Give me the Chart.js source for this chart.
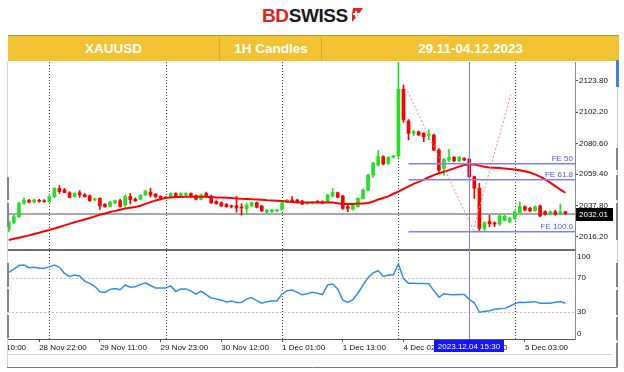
<!DOCTYPE html>
<html>
<head>
<meta charset="utf-8">
<title>XAUUSD 1H Candles</title>
<script src="https://cdn.jsdelivr.net/npm/chart.js@4.4.1/dist/chart.umd.min.js"></script>
<style>
  html, body { margin: 0; padding: 0; background: #fff; }
  body { position: relative; width: 624px; height: 372px; overflow: hidden; font-family: "Liberation Sans", Arial, sans-serif; }
  #logo { position: absolute; left: 262px; top: 5px; font-size: 19px; font-weight: bold; letter-spacing: -0.4px; white-space: nowrap; }
  #logo .bd { color: #e2231a; }
  #logo .sw { color: #1b1b1b; }
  #logo svg { vertical-align: top; margin-top: 3px; margin-left: 1px; }
  #band { position: absolute; left: 8px; top: 35px; width: 611px; height: 26px; background: #f1c232; border-top: 1px solid #b9962c; box-sizing: border-box; }
  #band div { position: absolute; top: 0; height: 25px; line-height: 25px; color: #fff; font-size: 13.5px; font-weight: bold; text-align: center; }
  #wrap { position: absolute; left: 0; top: 62px; width: 624px; height: 310px; }
  .edge { position: absolute; width: 2px; background: #858585; }
</style>
</head>
<body>
<div id="logo"><span class="bd">BD</span><span class="sw">SWISS</span><svg width="14" height="14" viewBox="0 0 14 14"><polygon points="4,0 14,0 9,7 3,14 3,6" fill="#e2231a"/><path d="M6 3h2v2h2v2H8v2H6V7H4V5h2z" fill="#fff"/></svg></div>
<div id="band">
  <div style="left:0;width:211px">XAUUSD</div>
  <div style="left:211px;width:102px;border-left:1px solid #d9aa22">1H Candles</div>
  <div style="left:313px;width:297px;border-left:1px solid #d9aa22">29.11-04.12.2023</div>
</div>
<div id="wrap"><canvas id="xauChart" width="624" height="310"></canvas></div>
<div style="position:absolute;left:0;top:339px;width:7px;height:33px;background:#fff"></div>
<div style="position:absolute;left:617px;top:62px;width:1px;height:306px;background:#cfcfcf"></div>
<div style="position:absolute;left:616px;top:60px;width:3px;height:27px;background:#4a7fd8"></div>
<div class="edge" style="left:616px;top:148px;height:22px"></div>
<div class="edge" style="left:616px;top:175px;height:25px"></div>
<div class="edge" style="left:616px;top:203px;height:37px"></div>
<div class="edge" style="left:616px;top:263px;height:24px"></div>
<div class="edge" style="left:616px;top:290px;height:25px"></div>
<div class="edge" style="left:616px;top:317px;height:23px"></div>
<div class="edge" style="left:616px;top:343px;height:24px"></div>
<div class="edge" style="left:7px;top:177px;height:23px"></div>
<div class="edge" style="left:7px;top:203px;height:24px"></div>
<div class="edge" style="left:7px;top:263px;height:24px"></div>
<div class="edge" style="left:7px;top:289px;height:23px"></div>
<div class="edge" style="left:7px;top:315px;height:23px"></div>
<script>
// hourly bars from 28 Nov 16:00 to 5 Dec 11:00 (server time, no 00:00 bar)
const opens = [
  2021, 2026, 2030, 2039.2, 2041.3, 2040, 2041.2, 2041, 2040.3, 2043.8,
  2049.5, 2048.5, 2046.5, 2043.8, 2046.5, 2045.2, 2044.4, 2041.5, 2042.6, 2038.5,
  2037, 2039.5, 2041, 2038, 2044, 2042, 2042, 2045, 2047, 2045.5,
  2044, 2043, 2043.5, 2046, 2044, 2045, 2046, 2044.5, 2042, 2046,
  2044.2, 2040.5, 2039.6, 2038.5, 2037.5, 2037.5, 2036.5, 2035.5, 2037.5, 2039.6,
  2037.3, 2033, 2033.5, 2034, 2035, 2040, 2041.5, 2041.5, 2040.8, 2039,
  2039.5, 2040.5, 2040.3, 2040.3, 2044.2, 2046.6, 2044.2, 2036.9, 2035.1, 2036.9,
  2042.6, 2048.4, 2058.7, 2065.7, 2071.4, 2066.8, 2070.9, 2071.9, 2117.9, 2096,
  2087.5, 2088.6, 2087.5, 2086, 2086.3, 2076, 2063.3, 2069.1, 2071, 2068.6,
  2070.2, 2069.6, 2057.6, 2049.6, 2021.9, 2026.6, 2025.8, 2025, 2027.5, 2026.5,
  2028.8, 2032.8, 2036.9, 2035.7, 2034.1, 2037.4, 2033.4, 2031.8, 2033.4, 2031.8, 2033.4
];
const highs = [
  2027, 2031, 2040, 2043, 2042, 2042.2, 2042, 2041.8, 2044.5, 2050,
  2051.5, 2049.5, 2047.2, 2046.5, 2048, 2046, 2045, 2042.8, 2043, 2039,
  2040.5, 2041.5, 2042, 2045, 2046, 2043, 2045, 2048, 2049.5, 2046,
  2044.5, 2044, 2046.5, 2046.5, 2046.5, 2046.5, 2046.5, 2045, 2045.5, 2047,
  2044.8, 2041, 2040.2, 2039, 2038, 2044, 2039, 2039.5, 2040.2, 2040,
  2037.8, 2034.8, 2035, 2035, 2040, 2041.8, 2043.8, 2042, 2041.2, 2040.2,
  2040.2, 2041.2, 2041, 2045.5, 2049.5, 2047, 2044.8, 2039.2, 2038.5, 2043,
  2049, 2059.2, 2067.5, 2075.5, 2072, 2071.4, 2072.3, 2137, 2120.8, 2097,
  2089.5, 2089, 2088, 2090, 2087, 2077, 2070, 2076.5, 2071.5, 2071.5,
  2070.6, 2070.5, 2058, 2053, 2026.5, 2031, 2026.5, 2031.3, 2031, 2029.5,
  2034, 2040.3, 2037.5, 2036.5, 2037.5, 2038, 2034, 2034, 2034.5, 2038.7, 2033.8
];
const lows = [
  2019.5, 2025, 2029.5, 2038.5, 2039.5, 2039.5, 2040, 2040, 2040, 2043,
  2046, 2046.5, 2043, 2043.5, 2043.3, 2043.5, 2040.5, 2041, 2035, 2036.5,
  2036.8, 2039, 2036.5, 2036.5, 2038.8, 2040.5, 2041.5, 2044.5, 2043.5, 2043,
  2042.5, 2042.5, 2043, 2043.5, 2043.5, 2044.5, 2043.5, 2041.5, 2041.5, 2043.5,
  2039, 2038.5, 2037, 2036.5, 2036, 2033, 2031, 2031.8, 2037, 2036,
  2033.5, 2032.5, 2033, 2033.2, 2034.5, 2039.5, 2039.8, 2040, 2038.3, 2038.5,
  2038.8, 2039.5, 2038.8, 2040, 2043.8, 2043, 2035, 2033.4, 2034.5, 2036.5,
  2042, 2048, 2057, 2065, 2065.7, 2066, 2070.5, 2071, 2095, 2083,
  2086, 2086, 2081.7, 2083, 2075.5, 2061, 2058.7, 2067.9, 2068, 2068,
  2068.6, 2057, 2042.6, 2019.8, 2019.8, 2023, 2023.2, 2023.8, 2027, 2026,
  2028, 2032.5, 2034, 2033.5, 2033.8, 2030, 2031, 2031.5, 2031, 2031.5, 2031.5
];
const closes = [
  2026, 2030, 2039.2, 2041.3, 2040, 2041.6, 2040.6, 2040.3, 2043.8, 2049.5,
  2047.3, 2046.6, 2043.3, 2046, 2045, 2043.8, 2041, 2042.3, 2037.5, 2036.8,
  2040, 2041.2, 2037, 2044, 2041.8, 2041, 2044.8, 2047.8, 2044.8, 2043.8,
  2043, 2043.5, 2046, 2044, 2046, 2046, 2044, 2042, 2045, 2044,
  2039.6, 2039, 2037.5, 2036.9, 2036.8, 2036, 2036, 2037.9, 2039.6, 2036.5,
  2034, 2034.6, 2034.6, 2034.5, 2039.5, 2041.5, 2040.8, 2040.3, 2038.7, 2039.8,
  2039.8, 2039.8, 2039.4, 2044.9, 2046.6, 2043.3, 2035.7, 2035.7, 2038, 2042.6,
  2048.4, 2058.7, 2066.8, 2071.4, 2066.3, 2070.9, 2071.9, 2117.9, 2096.7, 2087.5,
  2088.6, 2086.3, 2085.2, 2086.5, 2076, 2062.2, 2069.6, 2071, 2068.6, 2071,
  2069.1, 2057.6, 2049.6, 2021.9, 2025.9, 2025, 2024.8, 2030.5, 2030.3, 2028.8,
  2033.4, 2036.9, 2034.6, 2034.1, 2036.9, 2030.5, 2031.8, 2033.4, 2031.8, 2033.4, 2032
];
const maValues = [
  2013.9, 2014.7, 2015.5, 2016.3, 2017.1, 2018, 2018.9, 2019.9, 2020.8, 2021.8,
  2022.9, 2024, 2025, 2026.1, 2027.1, 2028.1, 2029.1, 2030.2, 2031.3, 2032.2,
  2033.2, 2034, 2034.8, 2035.6, 2036.2, 2036.7, 2037.5, 2038.8, 2040, 2041.2,
  2042, 2043, 2043.3, 2043.5, 2043.6, 2043.7, 2043.8, 2043.8, 2043.8, 2043.7,
  2043.5, 2043.3, 2043.2, 2043, 2042.8, 2042.5, 2042.3, 2042.2, 2042, 2041.9,
  2041.7, 2041.4, 2041.2, 2041, 2040.8, 2040.4, 2040.1, 2039.8, 2039.7, 2039.7,
  2039.7, 2039.7, 2039.7, 2039.7, 2039.7, 2039.3, 2038.8, 2038.7, 2038.8, 2039,
  2039.1, 2039.4, 2040.5, 2041.8, 2042.9, 2044, 2045.8, 2047.3, 2049.2, 2050.9,
  2052.6, 2054, 2055.6, 2057.2, 2058.7, 2059.9, 2061, 2062.1, 2063.3, 2064.5,
  2065.6, 2066.1, 2066, 2065.2, 2064.4, 2064, 2063.8, 2063.5, 2063.2, 2062.9,
  2062.6, 2062, 2061.3, 2060.5, 2059.2, 2057.6, 2055.7, 2053.5, 2051.1, 2048.7, 2046.5
];
const rsiValues = [
  76, 80, 84, 84.7, 81.6, 82, 80.8, 80.8, 82.5, 84.7,
  82, 75, 71.5, 73, 72, 66, 63.5, 60, 53.8, 53,
  56.5, 57.5, 56, 61.6, 59, 59.5, 62, 64, 61, 58,
  58, 58, 60.5, 54, 57, 57, 54.5, 51, 54.5, 50.5,
  46.5, 45.5, 44, 41.8, 43, 41.3, 41.2, 45.5, 47, 43.5,
  40.5, 42.3, 43, 43, 51, 55, 55.8, 53, 50.2, 51.5,
  53, 52, 50.4, 61.5, 62.7, 57, 44, 41.5, 44.5, 52,
  61.5, 70, 75.5, 78, 71.5, 73, 73.2, 85.8, 69, 63.6,
  63.6, 63.4, 63.2, 62.9, 55, 47.3, 51.5, 50.6, 50.3, 50.5,
  50.5, 45, 41, 30, 31, 31.7, 33.5, 34, 34.5, 37,
  40, 41.5, 41.3, 41.8, 42.3, 40.5, 40.5, 40.5, 41.5, 42.3, 40.5
];

const timeLabels = ['28 Nov 10:00', '28 Nov 22:00', '29 Nov 11:00', '29 Nov 23:00', '30 Nov 12:00',
  '1 Dec 01:00', '1 Dec 13:00', '4 Dec 02:00', '4 Dec 14:00', '5 Dec 03:00'];
const timeLabelBars = [-6, 6, 18, 30, 42, 54, 66, 78, 90, 102];
const daySepBars = [8, 31, 54, 77, 100];

const priceTicks = [2123.80, 2102.20, 2080.60, 2059.40, 2037.80, 2016.20];
const rsiTickLabels = ['100', '70', '30', '0'];
const rsiTickPos = [94.5, 70, 30, 5];   // MT4 keeps the end labels inside the pane
const rsiLevels = [70, 30];
const lastPrice = 2032.01;

const feNames = ['FE 50', 'FE 61.8', 'FE 100.0'];
const feValues = [2066.5, 2055.5, 2019.6];
const feStartBar = 79;
const fiboBars = [78.8, 91.8, 99.2];
const fiboPrices = [2116.5, 2021, 2114];

const cursorBar = 91;
const cursorLabel = '2023.12.04 15:30';

const xMin = -0.16, xMax = 111.9;
const upColor = '#22e022';
const downColor = '#ff0000';
const axisFont = { family: 'Liberation Sans', size: 8 };

const bars = opens.map((_, i) => i);
const candleColors = bars.map(i => closes[i] >= opens[i] ? upColor : downColor);

function hline(ctx, x1, x2, y) {
  ctx.beginPath(); ctx.moveTo(x1, y); ctx.lineTo(x2, y); ctx.stroke();
}
function vline(ctx, x, y1, y2) {
  ctx.beginPath(); ctx.moveTo(x, y1); ctx.lineTo(x, y2); ctx.stroke();
}

const terminalLook = {
  id: 'terminalLook',
  beforeDatasetsDraw(chart) {
    const { ctx, chartArea: a, scales: { x, y, y2 } } = chart;
    ctx.save();
    ctx.lineWidth = 1;
    ctx.strokeStyle = '#c4c4c4';
    ctx.setLineDash([2, 2]);
    rsiLevels.forEach(v => hline(ctx, a.left, a.right, Math.round(y2.getPixelForValue(v)) + 0.5));
    ctx.strokeStyle = '#444';
    ctx.setLineDash([1, 2]);
    daySepBars.forEach(b => vline(ctx, Math.round(x.getPixelForValue(b)) + 0.5, a.top, a.bottom));
    ctx.setLineDash([]);
    ctx.strokeStyle = '#a8a8a8';
    ctx.lineWidth = 2;
    hline(ctx, a.left, a.right, Math.round(y.getPixelForValue(lastPrice)));
    ctx.restore();
  },
  afterDatasetsDraw(chart) {
    const { ctx, chartArea: a, scales: { x, y } } = chart;
    ctx.save();
    // pane separator
    ctx.strokeStyle = '#6a6a6a';
    ctx.lineWidth = 2;
    hline(ctx, a.left, a.right, y.bottom);
    // crosshair
    ctx.strokeStyle = '#7c7cff';
    ctx.lineWidth = 1;
    vline(ctx, Math.round(x.getPixelForValue(cursorBar)) + 0.5, a.top, a.bottom);
    // fibo expansion labels
    ctx.fillStyle = '#5050ff';
    ctx.font = '8px "Liberation Sans"';
    ctx.textAlign = 'right';
    ctx.textBaseline = 'alphabetic';
    feNames.forEach((n, k) => ctx.fillText(n, a.right - 2, y.getPixelForValue(feValues[k]) - 3));
    ctx.restore();
  },
  afterDraw(chart) {
    const { ctx, chartArea: a, scales: { x, y } } = chart;
    ctx.save();
    // last price tag
    const py = Math.round(y.getPixelForValue(lastPrice));
    ctx.fillStyle = '#000';
    ctx.fillRect(a.right + 1, py - 6, 37, 13);
    ctx.fillStyle = '#fff';
    ctx.font = '8px "Liberation Sans"';
    ctx.textAlign = 'left';
    ctx.textBaseline = 'middle';
    ctx.fillText(lastPrice.toFixed(2), a.right + 4, py + 0.5);
    // cursor time tag
    const cx = Math.round(x.getPixelForValue(cursorBar));
    ctx.fillStyle = '#1414ff';
    ctx.fillRect(cx - 35, a.bottom + 1, 70, 12);
    ctx.fillStyle = '#fff';
    ctx.textAlign = 'center';
    ctx.fillText(cursorLabel, cx, a.bottom + 7.5);
    // window frame
    ctx.lineWidth = 1;
    ctx.strokeStyle = '#d4d4d4';
    vline(ctx, 7.5, 0, 306);
    hline(ctx, 8, 612, 292.5);
    ctx.strokeStyle = '#7a7a7a';
    hline(ctx, 7, 618, 305.5);
    ctx.restore();
  }
};

new Chart(document.getElementById('xauChart'), {
  type: 'bar',
  data: {
    datasets: [
      {
        label: 'wicks',
        data: bars.map(i => ({ x: i, y: [lows[i], highs[i]] })),
        backgroundColor: candleColors,
        barThickness: 1,
        grouped: false,
        yAxisID: 'y',
        order: 6
      },
      {
        label: 'bodies',
        data: bars.map(i => ({ x: i, y: [opens[i], closes[i]] })),
        backgroundColor: candleColors,
        barThickness: 3,
        minBarLength: 1,
        grouped: false,
        yAxisID: 'y',
        order: 5
      },
      {
        type: 'line',
        label: 'MA',
        data: bars.map(i => ({ x: i, y: maValues[i] })),
        borderColor: '#ff0000',
        borderWidth: 2,
        pointRadius: 0,
        tension: 0,
        yAxisID: 'y',
        order: 4
      },
      ...feValues.map((v, k) => ({
        type: 'line',
        label: feNames[k],
        data: [{ x: feStartBar, y: v }, { x: xMax, y: v }],
        borderColor: '#8080ff',
        borderWidth: 1.5,
        pointRadius: 0,
        yAxisID: 'y',
        order: 3
      })),
      {
        type: 'line',
        label: 'Fibo expansion',
        data: fiboBars.map((b, k) => ({ x: b, y: fiboPrices[k] })),
        borderColor: '#ff8080',
        borderWidth: 1,
        borderDash: [2, 2],
        pointRadius: 0,
        yAxisID: 'y',
        order: 2
      },
      {
        type: 'line',
        label: 'RSI',
        data: bars.map(i => ({ x: i, y: rsiValues[i] })),
        borderColor: '#2b8ff0',
        borderWidth: 1.5,
        pointRadius: 0,
        tension: 0,
        yAxisID: 'y2',
        order: 1
      }
    ]
  },
  options: {
    responsive: false,
    animation: false,
    events: [],
    layout: { padding: { left: 8, right: 0, top: 0, bottom: 0 } },
    plugins: { legend: { display: false }, tooltip: { enabled: false } },
    scales: {
      x: {
        type: 'linear',
        min: xMin,
        max: xMax,
        offset: false,
        afterBuildTicks: s => { s.ticks = timeLabelBars.map(v => ({ value: v })); },
        afterFit: s => { s.height = 33; s.paddingLeft = 0; s.paddingRight = 0; },
        grid: { offset: false, drawOnChartArea: false, drawTicks: true, tickLength: 3, color: '#555' },
        border: { color: '#555' },
        ticks: {
          autoSkip: false, maxRotation: 0, minRotation: 0, align: 'start', padding: 1,
          color: '#111', font: axisFont,
          callback: (v, i) => timeLabels[i]
        }
      },
      y: {
        position: 'right',
        stack: 'panes',
        stackWeight: 188,
        min: 2007.0,
        max: 2136.7,
        afterBuildTicks: s => { s.ticks = priceTicks.map(v => ({ value: v })); },
        afterFit: s => { s.width = 49; s.paddingTop = 0; s.paddingBottom = 0; },
        grid: { drawOnChartArea: false, drawTicks: true, tickLength: 3, color: '#555' },
        border: { color: '#8a8a8a' },
        ticks: { padding: 1, color: '#111', font: axisFont, callback: v => v.toFixed(2) }
      },
      y2: {
        position: 'right',
        stack: 'panes',
        stackWeight: 89,
        min: -0.9,
        max: 102,
        afterBuildTicks: s => { s.ticks = rsiTickPos.map(v => ({ value: v })); },
        afterFit: s => { s.width = 49; s.paddingTop = 0; s.paddingBottom = 0; },
        grid: { drawOnChartArea: false, drawTicks: false },
        border: { color: '#8a8a8a' },
        ticks: { padding: 2, color: '#111', font: axisFont, callback: (v, i) => rsiTickLabels[i] }
      }
    }
  },
  plugins: [terminalLook]
});
</script>
</body>
</html>
